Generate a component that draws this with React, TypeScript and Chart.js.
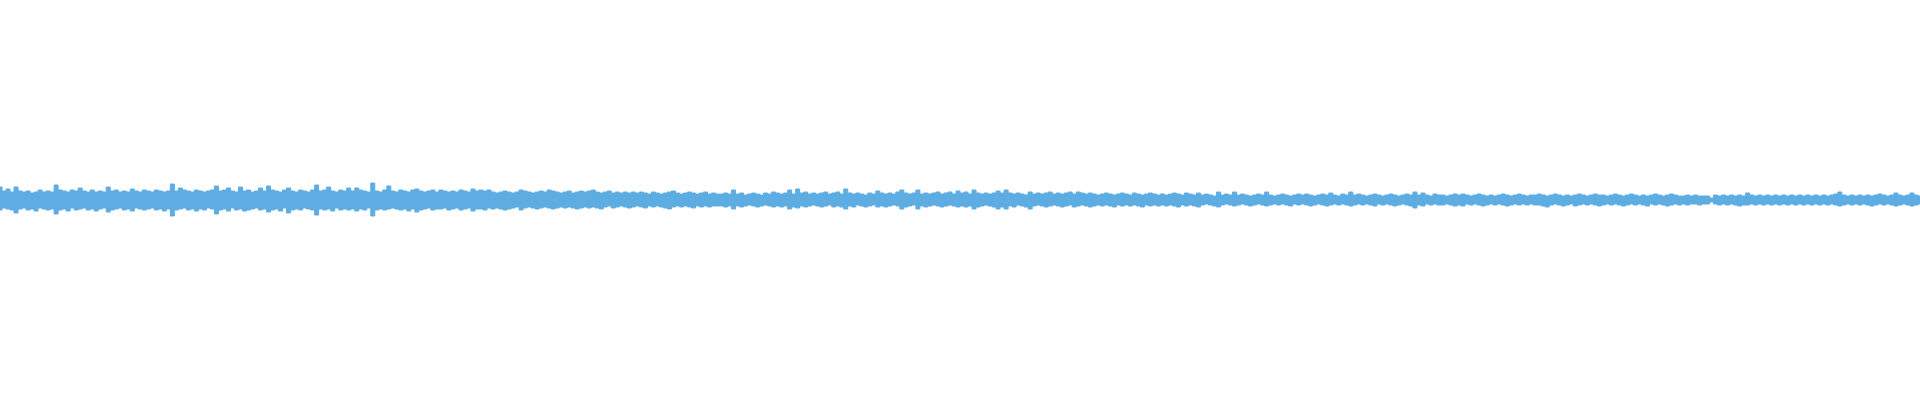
import React, { useEffect, useRef } from "react";
import { Chart, registerables } from "chart.js";

Chart.register(...registerables);

// Upper envelope of the waveform, one value per ~4px column group
const upperA = [13,9,11,8,13,9,8,9,7,8,10,8,9,8,15,10,9,8,10,9,12,9,8,10,8,9,8,13,9,10,8,9,8,11,9,8,10,9,8,10,9,8,9,16,9,12,10,9,8,10,9,8,9,10,14,9,10,12,9,8];
const upperB = [13,9,10,8,9,12,9,14,10,9,8,10,12,9,8,10,9,8,10,15,9,10,13,9,8,10,9,12,9,12,10,9,8,17,9,8,10,14,9,8,10,9,8,10,11,9,8,9,10,8,10,9,8,9,8,10,9,8,11,9];
const upperC = [10,9,10,8,7,8,9,8,7,8,10,9,8,7,8,9,8,10,9,8,7,8,9,7,8,9,8,9,10,8,7,8,9,7,8,7,8,7,8,7,8,7,6,8,7,6,7,8,9,7,6,7,8,7,6,7,8,6,7,6];
const upperD = [6,7,6,10,6,7,5,6,7,6,5,7,6,8,7,6,7,10,6,11,7,8,6,7,6,7,8,6,7,8,6,11,7,6,7,6,5,7,6,9,7,6,7,6,8,10,7,6,7,10,6,7,6,7,8,6,7,8,6,9];
const upperE = [7,8,6,10,7,6,7,6,7,9,7,10,7,6,7,6,5,8,6,7,6,7,8,6,7,6,7,8,6,8,7,6,7,6,5,6,7,6,5,6,7,6,5,7,6,5,6,7,6,5,6,5,6,7,6,5,7,6,5,7];
const upperF = [5,6,5,4,8,5,6,5,8,5,6,5,4,5,6,5,8,5,4,5,6,5,4,5,6,5,6,5,4,5,6,5,7,5,4,6,5,8,5,6,5,4,5,6,5,4,5,6,5,4,5,6,5,8,5,7,5,4,6,5];
const upperG = [5,4,5,6,5,6,5,4,5,6,5,4,5,4,5,6,5,4,5,6,5,4,5,5,6,5,4,5,6,5,4,5,4,5,6,5,4,5,6,5,5,4,5,6,5,4,5,6,5,4,5,4,5,6,5,4,5,6,5,4];
const upperH = [4,5,4,5,4,4,4,2,5,4,5,4,5,4,5,4,7,5,4,5,4,5,4,5,4,5,4,5,4,5,4,5,4,5,4,5,4,5,6,8,5,4,5,4,5,4,5,4,5,6,5,4,5,7,5,4,5,7,5,4];

// Lower envelope of the waveform
const lowerA = [-10,-8,-9,-10,-13,-9,-8,-10,-9,-11,-8,-9,-10,-9,-14,-10,-9,-11,-8,-10,-9,-8,-10,-9,-11,-9,-8,-12,-10,-9,-8,-10,-9,-11,-8,-9,-10,-9,-8,-10,-9,-11,-9,-16,-10,-9,-8,-10,-9,-11,-9,-10,-8,-9,-14,-10,-9,-11,-8,-10];
const lowerB = [-9,-11,-10,-9,-8,-10,-9,-12,-10,-9,-11,-8,-13,-10,-9,-10,-8,-9,-10,-15,-9,-10,-9,-11,-8,-10,-9,-10,-9,-11,-9,-10,-8,-16,-10,-9,-10,-9,-8,-9,-10,-9,-11,-9,-12,-10,-9,-8,-10,-9,-9,-8,-10,-9,-8,-10,-9,-8,-11,-9];
const lowerC = [-9,-10,-8,-9,-8,-9,-10,-9,-8,-7,-10,-8,-7,-8,-9,-8,-7,-8,-9,-8,-7,-8,-7,-8,-9,-8,-7,-8,-7,-8,-9,-7,-6,-8,-7,-6,-7,-8,-7,-6,-7,-8,-6,-7,-6,-7,-8,-9,-7,-6,-7,-6,-7,-8,-6,-7,-6,-7,-6,-6];
const lowerD = [-6,-7,-6,-9,-6,-7,-6,-5,-6,-7,-6,-5,-6,-7,-6,-7,-6,-9,-7,-8,-6,-7,-6,-5,-6,-7,-6,-5,-7,-6,-7,-9,-6,-7,-5,-6,-7,-6,-5,-7,-6,-7,-6,-5,-6,-9,-7,-6,-5,-9,-6,-7,-6,-5,-6,-7,-6,-5,-6,-7];
const lowerE = [-6,-7,-6,-9,-7,-6,-5,-6,-7,-9,-7,-9,-6,-7,-5,-6,-7,-9,-6,-5,-6,-7,-6,-5,-6,-7,-6,-5,-7,-6,-5,-6,-7,-6,-5,-6,-5,-6,-7,-5,-6,-5,-6,-5,-6,-7,-5,-6,-5,-6,-5,-6,-5,-6,-7,-5,-6,-5,-6,-7];
const lowerF = [-5,-4,-5,-6,-7,-5,-4,-5,-6,-5,-4,-5,-6,-5,-4,-5,-6,-5,-4,-5,-4,-5,-6,-4,-5,-4,-5,-6,-5,-4,-5,-6,-5,-4,-5,-4,-5,-6,-5,-4,-5,-4,-5,-6,-4,-5,-4,-5,-6,-5,-4,-5,-6,-8,-5,-6,-4,-5,-4,-5];
const lowerG = [-5,-4,-5,-6,-5,-6,-4,-5,-4,-5,-6,-5,-4,-5,-4,-5,-6,-5,-4,-5,-4,-5,-4,-5,-5,-6,-7,-5,-4,-5,-6,-5,-4,-6,-5,-4,-5,-4,-5,-6,-5,-4,-5,-4,-5,-6,-5,-4,-5,-4,-5,-6,-4,-5,-4,-5,-6,-5,-4,-5];
const lowerH = [-4,-5,-4,-4,-5,-4,-4,-2,-4,-5,-4,-5,-4,-5,-6,-5,-5,-4,-5,-4,-5,-4,-5,-4,-5,-4,-5,-4,-5,-4,-5,-4,-5,-4,-5,-4,-5,-4,-5,-6,-5,-4,-5,-4,-5,-4,-5,-6,-5,-4,-5,-4,-5,-6,-5,-4,-5,-6,-5,-4];

const upper = [...upperA, ...upperB, ...upperC, ...upperD, ...upperE, ...upperF, ...upperG, ...upperH];
const lower = [...lowerA, ...lowerB, ...lowerC, ...lowerD, ...lowerE, ...lowerF, ...lowerG, ...lowerH];
const labels = Array.from({ length: Math.max(upper.length, lower.length) }, (_, i) => String(i));

const WAVE = "rgb(93,173,226)";

export default function App() {
  const ref = useRef<HTMLCanvasElement | null>(null);
  useEffect(() => {
    document.body.style.margin = "0";
    const chart = new Chart(ref.current!, {
      type: "line",
      data: {
        labels,
        datasets: [
          {
            data: upper,
            borderColor: WAVE,
            backgroundColor: WAVE,
            borderWidth: 1,
            pointRadius: 0,
            stepped: "middle",
            fill: "+1",
          },
          {
            data: lower,
            borderColor: WAVE,
            backgroundColor: WAVE,
            borderWidth: 1,
            pointRadius: 0,
            stepped: "middle",
            fill: false,
          },
        ],
      },
      options: {
        animation: false,
        responsive: true,
        maintainAspectRatio: false,
        layout: { padding: 0 },
        plugins: { legend: { display: false }, tooltip: { enabled: false } },
        scales: {
          x: { display: false, offset: false },
          y: { display: false, min: -200, max: 200 },
        },
      },
    });
    return () => chart.destroy();
  }, []);
  return (
    <div style={{ width: 1920, height: 400, position: "relative" }}>
      <canvas ref={ref} />
    </div>
  );
}
